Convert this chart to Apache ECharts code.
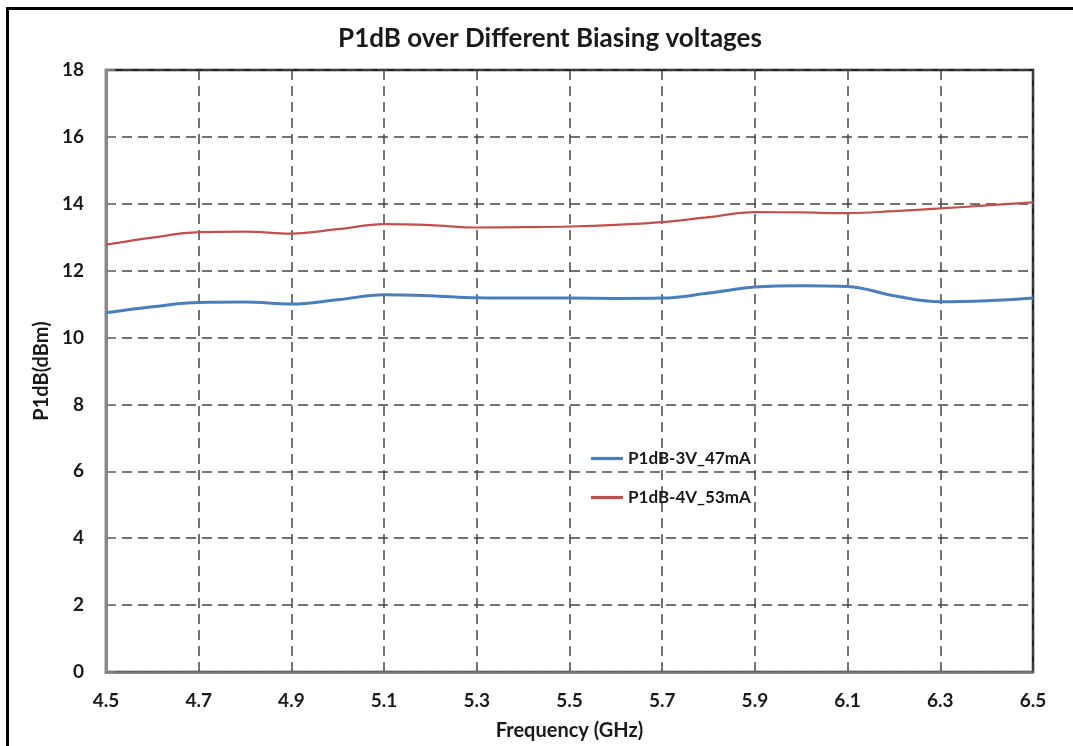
<!DOCTYPE html>
<html>
<head>
<meta charset="utf-8">
<script src="https://cdn.jsdelivr.net/npm/echarts@6/dist/echarts.min.js"></script>
<style>html,body{margin:0;padding:0;background:#fff;}#c{width:1073px;height:746px;}</style>
</head>
<body>
<div id="c"></div>
<script>
const freq = [4.5, 4.6, 4.7, 4.8, 4.9, 5.0, 5.1, 5.2, 5.3, 5.4, 5.5, 5.6, 5.7, 5.8, 5.9, 6.0, 6.1, 6.2, 6.3, 6.4, 6.5];
const p1dB_3V = [10.74, 10.92, 11.05, 11.06, 11.0, 11.13, 11.28, 11.25, 11.19, 11.18, 11.18, 11.17, 11.18, 11.33, 11.51, 11.55, 11.53, 11.25, 11.07, 11.1, 11.18];
const p1dB_4V = [12.78, 12.99, 13.15, 13.17, 13.11, 13.24, 13.39, 13.36, 13.29, 13.30, 13.32, 13.37, 13.45, 13.6, 13.75, 13.74, 13.72, 13.78, 13.86, 13.95, 14.04];
const seriesNames = ['P1dB-3V_47mA', 'P1dB-4V_53mA'];
const titleText = 'P1dB over Different Biasing voltages';

const chart = echarts.init(document.getElementById('c'));
const font = 'Lato, "Open Sans", sans-serif';
chart.setOption({
  animation: false,
  backgroundColor: '#fff',
  title: {
    text: titleText, left: 545, top: 21, textAlign: 'center',
    textStyle: { fontFamily: font, fontSize: 26, fontWeight: 'bold', color: '#1a1a1a' }
  },
  graphic: [{
    type: 'rect', shape: { x: 7.5, y: 8.5, width: 1100, height: 800 },
    style: { fill: 'none', stroke: '#000', lineWidth: 3 }, z: 100
  }],
  legend: {
    orient: 'vertical', left: 586, top: 445, itemGap: 22, itemWidth: 32, itemHeight: 14,
    data: seriesNames,
    textStyle: { fontFamily: font, fontSize: 17, fontWeight: 'bold', color: '#1a1a1a' },
    icon: 'path://M0,0 L10,0 L10,1 L0,1 Z'
  },
  grid: {
    left: 106, right: 40, top: 70, bottom: 73, containLabel: false,
    show: true, borderColor: '#222', borderWidth: 2.5
  },
  xAxis: {
    type: 'value', min: 4.5, max: 6.5, interval: 0.2,
    name: 'Frequency (GHz)', nameLocation: 'middle', nameGap: 49,
    nameTextStyle: { fontFamily: font, fontSize: 20, fontWeight: 'bold', color: '#1a1a1a' },
    axisLine: { show: true, lineStyle: { color: '#777', width: 2.5 } },
    axisTick: { show: false },
    axisLabel: { margin: 19, fontFamily: font, fontSize: 19, fontWeight: 'bold', color: '#1a1a1a',
      formatter: v => v.toFixed(1) },
    splitLine: { show: true, lineStyle: { color: '#444', type: [10, 6], width: 1.5 } }
  },
  yAxis: {
    type: 'value', min: 0, max: 18, interval: 2,
    name: 'P1dB(dBm)', nameLocation: 'middle', nameGap: 52,
    nameTextStyle: { fontFamily: font, fontSize: 20, fontWeight: 'bold', color: '#1a1a1a' },
    axisLine: { show: true, lineStyle: { color: '#888', width: 3 } },
    axisTick: { show: true, inside: true, length: 9, lineStyle: { color: '#888', width: 1.5 } },
    axisLabel: { margin: 22, fontFamily: font, fontSize: 19, fontWeight: 'bold', color: '#1a1a1a' },
    splitLine: { show: true, lineStyle: { color: '#444', type: [10, 6], width: 1.5 } }
  },
  series: [
    { name: seriesNames[0], type: 'line', smooth: 0.4, showSymbol: false,
      data: freq.map((f, i) => [f, p1dB_3V[i]]),
      lineStyle: { color: '#4a7ebb', width: 3 }, itemStyle: { color: '#4a7ebb' } },
    { name: seriesNames[1], type: 'line', smooth: 0.4, showSymbol: false,
      data: freq.map((f, i) => [f, p1dB_4V[i]]),
      lineStyle: { color: '#c0504d', width: 2.2 }, itemStyle: { color: '#c0504d' } }
  ]
});
</script>
</body>
</html>
